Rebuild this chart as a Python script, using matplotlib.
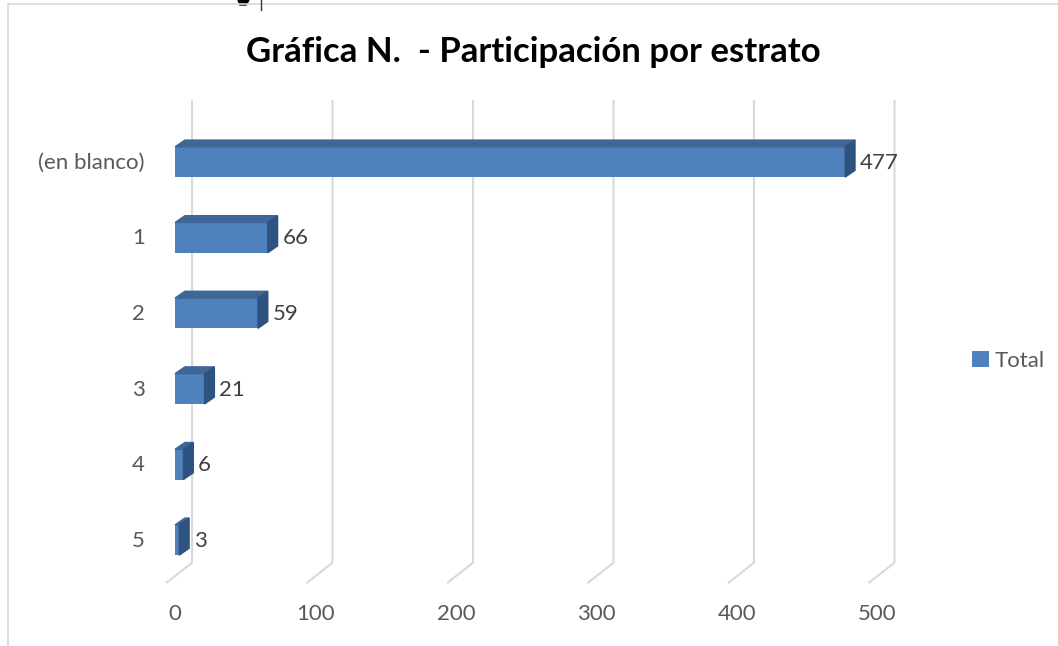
import matplotlib.pyplot as plt
from matplotlib.patches import Polygon
from matplotlib.lines import Line2D

categories = ["(en blanco)", "1", "2", "3", "4", "5"]
values = [477, 66, 59, 21, 6, 3]
xticks = [0, 100, 200, 300, 400, 500]

plt.rcParams['font.family'] = ['Lato', 'DejaVu Sans']

fig = plt.figure(figsize=(10.58, 6.46), dpi=100)
ax = fig.add_axes([0, 0, 1, 1])
ax.set_xlim(-124.6, 628.5)
ax.set_ylim(6.402, -2.143)
ax.axis('off')

front = '#4F81BD'
top = '#3E6696'
side = '#2F5380'
grid = '#D9D9D9'

# perspective offsets (data units)
dx, dy = 7.0, 0.09
h = 0.40
gx, fx = 12.1, -6.4
ytop, yback, yfront = -0.82, 5.30, 5.57

# back wall gridlines + floor
for t in xticks:
    ax.plot([t + gx, t + gx, t + fx], [ytop, yback, yfront], color=grid, lw=1.5,
            solid_capstyle='butt', zorder=1)
    ax.text(t, 5.98, str(t), ha='center', va='center', fontsize=16, color='#595959')

ypos = list(range(len(categories)))
bars = ax.barh(ypos, values, height=h, color=front, zorder=3, label='Total')
for i, v in zip(ypos, values):
    y0, y1 = i - h / 2, i + h / 2
    ax.add_patch(Polygon([(0, y0), (dx, y0 - dy), (v + dx, y0 - dy), (v, y0)],
                         closed=True, color=top, zorder=3))
    ax.add_patch(Polygon([(v, y0), (v + dx, y0 - dy), (v + dx, y1 - dy), (v, y1)],
                         closed=True, color=side, zorder=3))
    ax.text(v + dx + 3.5, i + 0.01, str(v), ha='left', va='center', fontsize=16,
            color='#404040')
    ax.text(-21.4, i + 0.01, categories[i], ha='right', va='center', fontsize=16,
            color='#595959')

ax.legend(handles=[bars], loc='center left', bbox_to_anchor=(952 / 1058, 1 - 361 / 646),
          frameon=False, fontsize=16, handlelength=0.75, handleheight=0.75,
          handletextpad=0.25, labelcolor='#595959')

fig.text(533 / 1058, 1 - 52 / 646, "Gráfica N.  - Participación por estrato",
         ha='center', va='center', fontsize=25, fontweight='bold', color='black')

# chart frame
fig.add_artist(Line2D([8 / 1058, 8 / 1058], [0, 1 - 4 / 646], color=grid, lw=1.2))
fig.add_artist(Line2D([8 / 1058, 1], [1 - 4 / 646, 1 - 4 / 646], color=grid, lw=1.2))
fig.add_artist(Polygon([(238 / 1058, 1), (249 / 1058, 1), (246 / 1058, 1 - 5 / 646),
                        (240 / 1058, 1 - 5 / 646)], closed=True, color='black'))
fig.add_artist(Line2D([261 / 1058, 261 / 1058], [1, 1 - 10 / 646], color='#333333', lw=1))

fig.savefig('out.png', dpi=100)
